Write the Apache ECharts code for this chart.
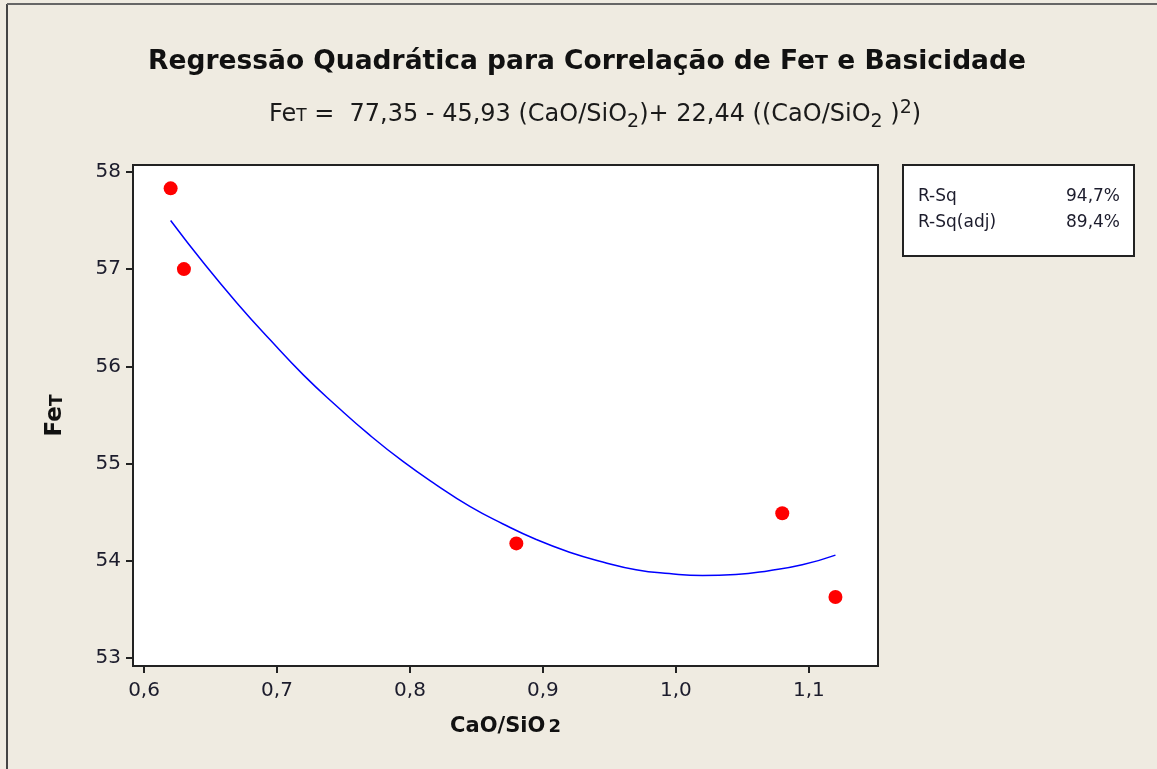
<!DOCTYPE html>
<html>
<head>
<meta charset="utf-8">
<script src="https://cdn.jsdelivr.net/npm/echarts@6/dist/echarts.min.js"></script>
<style>
  html, body { margin: 0; padding: 0; background: #EFEBE1; }
  #main { width: 1157px; height: 769px; }
</style>
</head>
<body>
<div id="main"></div>
<script>
// valores
var xTicks = [0.6, 0.7, 0.8, 0.9, 1.0, 1.1];
var yTicks = [53, 54, 55, 56, 57, 58];

// pontos observados (CaO/SiO2, FeT)
var obsX = [0.62, 0.63, 0.88, 1.08, 1.12];
var obsY = [57.83, 57.0, 54.18, 54.49, 53.63];

// curva ajustada
var fitX = [0.62, 0.645, 0.67, 0.695, 0.72, 0.745, 0.77, 0.795, 0.82, 0.845, 0.87,
            0.895, 0.92, 0.945, 0.97, 0.995, 1.02, 1.045, 1.07, 1.095, 1.12];
var fitY = [57.50, 57.06, 56.65, 56.27, 55.91, 55.59, 55.29, 55.02, 54.78, 54.56, 54.38,
            54.22, 54.09, 53.99, 53.91, 53.87, 53.85, 53.86, 53.90, 53.96, 54.06];

var rsqNomes = ['R-Sq', 'R-Sq(adj)'];
var rsq = ['94,7%', '89,4%'];

var font = 'DejaVu Sans';
var txt = '#1c1c2c';

function pairs(xs, ys) {
    return xs.map(function (x, i) { return [x, ys[i]]; });
}
function virgula(v) {
    return v.toFixed(1).replace('.', ',');
}

var chart = echarts.init(document.getElementById('main'), null, { renderer: 'canvas' });

var legenda = [{
    type: 'rect',
    shape: { x: 903, y: 165, width: 231, height: 91 },
    style: { fill: '#fff', stroke: '#222', lineWidth: 2 }
}];
rsqNomes.forEach(function (n, i) {
    legenda.push({
        type: 'text', x: 918, y: 197 + i * 26,
        style: { text: n, font: '17px "DejaVu Sans"', fill: txt, textVerticalAlign: 'middle' }
    });
    legenda.push({
        type: 'text', x: 1120, y: 197 + i * 26,
        style: { text: rsq[i], font: '17px "DejaVu Sans"', fill: txt, textAlign: 'right', textVerticalAlign: 'middle' }
    });
});

var option = {
    backgroundColor: '#EFEBE1',
    animation: false,
    title: [{
        text: 'Regressão Quadrática para Correlação de Fe{t|T} e Basicidade',
        left: 582,
        textAlign: 'center',
        top: 44,
        textStyle: {
            fontFamily: font, fontSize: 26.5, fontWeight: 'bold', color: '#111',
            rich: {
                t: { fontFamily: font, fontSize: 19, fontWeight: 'bold', color: '#111', padding: [4, 0, 0, 0] }
            }
        }
    }, {
        text: 'Fe{t|T} =  77,35 - 45,93 (CaO/SiO{sb|2})+ 22,44 ((CaO/SiO{sb|2} ){sp|2})',
        left: 590,
        textAlign: 'center',
        top: 92,
        textStyle: {
            fontFamily: font, fontSize: 24, fontWeight: 'normal', color: '#1a1a1a',
            rich: {
                t: { fontFamily: font, fontSize: 17, fontWeight: 'normal', color: '#1a1a1a', padding: [4, 0, 0, 0] },
                sb: { fontFamily: font, fontSize: 19, fontWeight: 'normal', color: '#1a1a1a', padding: [16, 0, 0, 0] },
                sp: { fontFamily: font, fontSize: 19, fontWeight: 'normal', color: '#1a1a1a', padding: [0, 0, 12, 0] }
            }
        }
    }],
    grid: {
        left: 133, top: 165, width: 745, height: 501,
        show: true,
        backgroundColor: '#ffffff',
        borderColor: '#222',
        borderWidth: 2
    },
    xAxis: {
        type: 'value',
        min: 0.5917,
        max: 1.152,
        name: 'CaO/SiO{s|2}',
        nameLocation: 'middle',
        nameGap: 50,
        nameTextStyle: {
            fontFamily: font, fontSize: 21, fontWeight: 'bold', color: '#111',
            rich: { s: { fontFamily: font, fontSize: 18, fontWeight: 'bold', color: '#111', padding: [1, 0, 0, 3] } }
        },
        splitLine: { show: false },
        axisLine: { show: false },
        axisTick: { show: true, length: 7, lineStyle: { color: '#222', width: 2 }, customValues: xTicks },
        axisLabel: {
            customValues: xTicks,
            formatter: function (v) { return virgula(v); },
            fontFamily: font, fontSize: 20, color: txt, margin: 15
        }
    },
    yAxis: {
        type: 'value',
        min: 52.92,
        max: 58.07,
        name: 'Fe{t|T}',
        nameLocation: 'middle',
        nameGap: 66,
        nameRotate: 90,
        nameTextStyle: {
            fontFamily: font, fontSize: 23, fontWeight: 'bold', color: '#111',
            rich: { t: { fontFamily: font, fontSize: 17, fontWeight: 'bold', color: '#111', padding: [4, 0, 0, 0] } }
        },
        splitLine: { show: false },
        axisLine: { show: false },
        axisTick: { show: true, length: 7, lineStyle: { color: '#222', width: 2 }, customValues: yTicks },
        axisLabel: {
            customValues: yTicks,
            fontFamily: font, fontSize: 20, color: txt, margin: 12
        }
    },
    series: [{
        name: 'ajuste',
        type: 'line',
        data: pairs(fitX, fitY),
        smooth: true,
        showSymbol: false,
        lineStyle: { color: '#0000FF', width: 1.5 },
        z: 2
    }, {
        name: 'observado',
        type: 'scatter',
        data: pairs(obsX, obsY),
        symbol: 'circle',
        symbolSize: 14,
        itemStyle: { color: '#FF0000', opacity: 1 },
        z: 3
    }],
    graphic: [{
        type: 'line',
        shape: { x1: 7, y1: 4, x2: 7, y2: 769 },
        style: { stroke: '#444', lineWidth: 2 }
    }, {
        type: 'line',
        shape: { x1: 7, y1: 4, x2: 1157, y2: 4 },
        style: { stroke: '#666', lineWidth: 2 }
    }].concat(legenda)
};

chart.setOption(option);
</script>
</body>
</html>
